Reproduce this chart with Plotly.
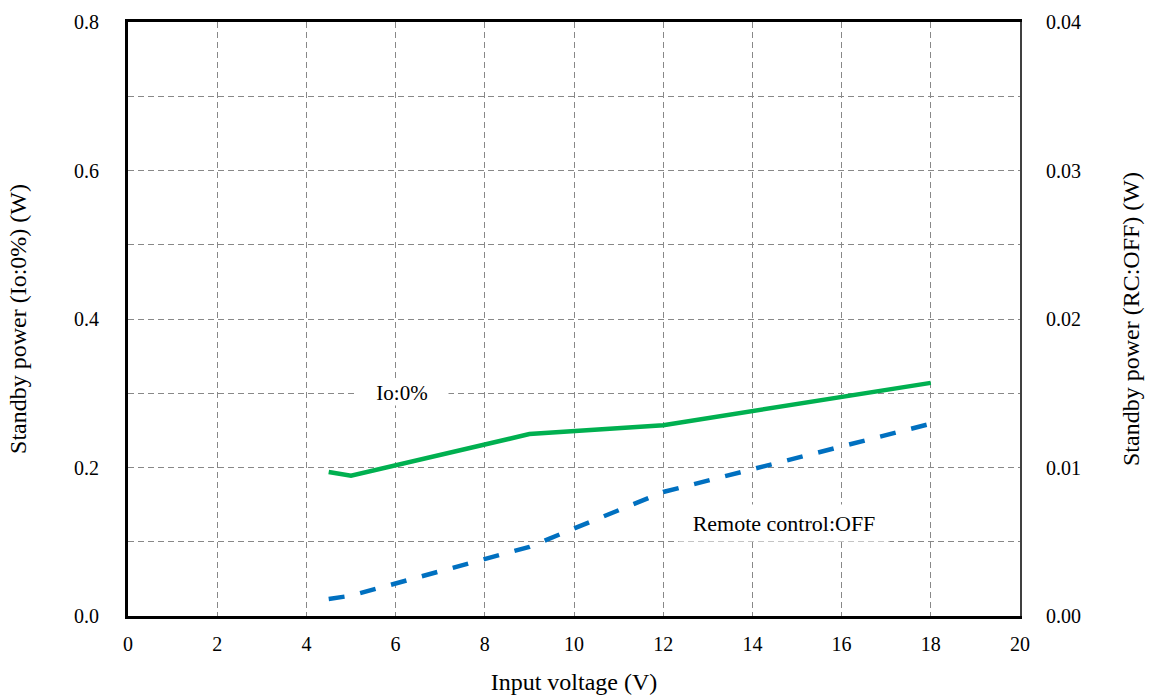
import plotly.graph_objects as go

voltage = [4.5, 5, 9, 12, 18]
p_io0 = [0.194, 0.189, 0.245, 0.257, 0.314]
p_rc_off = [0.00115, 0.00137, 0.00466, 0.00835, 0.01295]

x_ticks = list(range(0, 21, 2))
y_left_ticks = [0.0, 0.2, 0.4, 0.6, 0.8]
y_right_ticks = [0.00, 0.01, 0.02, 0.03, 0.04]

FONT = "Liberation Serif"
GRID = "#888888"

fig = go.Figure()
fig.add_trace(go.Scatter(x=voltage, y=p_io0, mode="lines", yaxis="y",
                         line=dict(color="#00B050", width=4.5), showlegend=False))
fig.add_trace(go.Scatter(x=voltage, y=p_rc_off, mode="lines", yaxis="y2",
                         line=dict(color="#0070C0", width=4.5, dash="16px,16px"), showlegend=False))

fig.update_layout(
    width=1150, height=698,
    margin=dict(l=128, r=130, t=22, b=82, autoexpand=False),
    paper_bgcolor="white", plot_bgcolor="white",
    font=dict(family=FONT, size=20, color="black"),
    xaxis=dict(range=[0, 20], tickvals=x_ticks, ticks="", showgrid=True,
               gridcolor=GRID, gridwidth=1.3, griddash="6px,4px",
               showline=True, linecolor="black", linewidth=3, mirror=True,
               zeroline=False, automargin=False,
               title=dict(text="Input voltage (V)", standoff=20),
               ticklabelstandoff=8),
    yaxis=dict(range=[0, 0.8], tickvals=y_left_ticks, tickformat=".1f", ticks="",
               showgrid=True, gridcolor=GRID, gridwidth=1.3, griddash="6px,4px",
               minor=dict(dtick=0.1, tick0=0, showgrid=True, gridcolor=GRID,
                          gridwidth=1.3, griddash="6px,4px"),
               showline=True, linecolor="black", linewidth=3, zeroline=False,
               automargin=False, ticklabelstandoff=22,
               title=dict(text="Standby power (Io:0%) (W)", standoff=41)),
    yaxis2=dict(range=[0, 0.04], tickvals=y_right_ticks, tickformat=".2f", ticks="",
                overlaying="y", side="right", showgrid=False, zeroline=False,
                showline=True, linecolor="#404040", linewidth=2,
                automargin=False, ticklabelstandoff=20,
                title=dict(text="Standby power (RC:OFF) (W)", standoff=42)),
)

fig.add_annotation(x=6.15, y=0.3, xref="x", yref="y", text="Io:0%", showarrow=False,
                   bgcolor="white", width=92, height=24, borderpad=0,
                   font=dict(family=FONT, size=21))
fig.add_annotation(x=14.7, y=0.125, xref="x", yref="y", text="Remote control:OFF",
                   showarrow=False, bgcolor="white", width=210, height=36, borderpad=0,
                   font=dict(family=FONT, size=22))

fig.write_html("out.html")
